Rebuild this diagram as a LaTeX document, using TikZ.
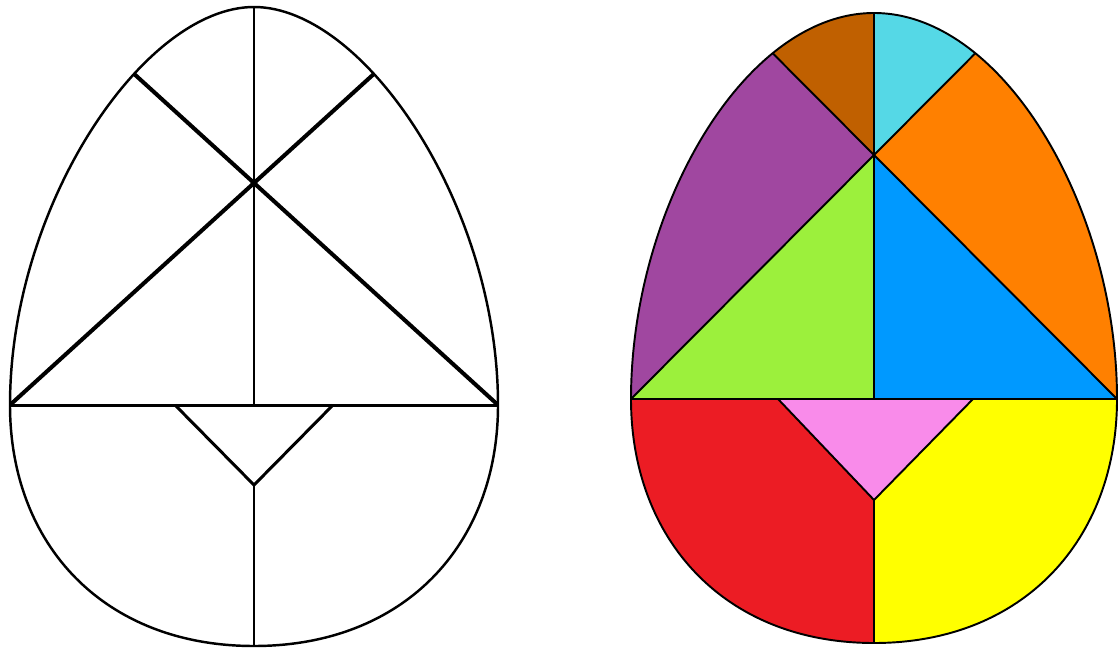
\documentclass[tikz,border=0pt]{standalone}
\usepackage{tikz}
\usetikzlibrary{calc}
\definecolor{eggbrown}{HTML}{C06000}
\definecolor{eggcyan}{HTML}{55D8E6}
\definecolor{eggorange}{HTML}{FF8000}
\definecolor{eggpurple}{HTML}{A047A0}
\definecolor{egggreen}{HTML}{9CF03C}
\definecolor{eggblue}{HTML}{0099FF}
\definecolor{eggpink}{HTML}{F98BEA}
\definecolor{eggred}{HTML}{EC1C24}
\definecolor{eggyellow}{HTML}{FFFF00}

% egg outline: {centre x}{top}{widest y}{bottom}{half width}{side pull}{top pull}
\newcommand{\eggoutline}[7]{%
  ({#1-#5},#3) .. controls ({#1-#5},{#3-#6}) and ({#1-#7},#2) .. (#1,#2)
  .. controls ({#1+#7},#2) and ({#1+#5},{#3-#6}) .. ({#1+#5},#3)
  .. controls ({#1+#5},{#3+140}) and ({#1+150},#4) .. (#1,#4)
  .. controls ({#1-150},#4) and ({#1-#5},{#3+140}) .. cycle}

\begin{document}
\begin{tikzpicture}[
  x=0.02cm, y=-0.02cm,
  eggline/.style={draw=black, line width=1.4pt},
  cutline/.style={draw=black, line width=1.7pt},
  diagline/.style={draw=black, line width=2.3pt},
  colline/.style={draw=black, line width=1.1pt, line join=round},
]
\useasboundingbox (0,0) rectangle (1118,649);

% Left egg: outline and cut lines only
\coordinate (ltop) at (254,7);
\coordinate (lcross) at (254,183);
\coordinate (lleft) at (10,405);
\coordinate (lright) at (498,405);
\coordinate (lmid) at (254,405);
\coordinate (ltrapl) at (175,405);
\coordinate (ltrapr) at (333,405);
\coordinate (lapex) at (254,485);
\coordinate (lbot) at (254,646);

\begin{scope}
\clip \eggoutline{254}{7}{405}{646}{244}{200}{110};
\draw[diagline] (lleft) -- ($(lleft)!1.7!(lcross)$);
\draw[diagline] (lright) -- ($(lright)!1.7!(lcross)$);
\end{scope}
\draw[cutline] (ltop) -- (lmid);
\draw[cutline] (lleft) -- (lright);
\draw[cutline, line join=round] (ltrapl) -- (lapex) -- (ltrapr);
\draw[cutline] (lapex) -- (lbot);
\draw[eggline] \eggoutline{254}{7}{405}{646}{244}{200}{110};

% Right egg: the coloured pieces
\coordinate (rtop) at (874,13);
\coordinate (rcross) at (874,155);
\coordinate (rleft) at (631,399);
\coordinate (rright) at (1117,399);
\coordinate (rmid) at (874,399);
\coordinate (rtrapl) at (778,399);
\coordinate (rtrapr) at (973,399);
\coordinate (rapex) at (874,500);
\coordinate (rbot) at (874,643);
\coordinate (rfarl) at ($(rright)!2!(rcross)$);
\coordinate (rfarr) at ($(rleft)!2!(rcross)$);

\begin{scope}
\clip \eggoutline{874}{13}{399}{643}{243}{190}{130};
\fill[eggbrown] (rcross) -- (rfarl) -- (874,-100) -- cycle;
\fill[eggcyan] (rcross) -- (rfarr) -- (874,-100) -- cycle;
\fill[eggpurple] (rcross) -- (rfarl) -- (560,-100) -- (560,399) -- (rleft) -- cycle;
\fill[eggorange] (rcross) -- (rfarr) -- (1180,-100) -- (1180,399) -- (rright) -- cycle;
\fill[egggreen] (rcross) -- (rleft) -- (rmid) -- cycle;
\fill[eggblue] (rcross) -- (rright) -- (rmid) -- cycle;
\fill[eggpink] (rtrapl) -- (rtrapr) -- (rapex) -- cycle;
\fill[eggred] (560,399) -- (rtrapl) -- (rapex) -- (874,700) -- (560,700) -- cycle;
\fill[eggyellow] (1180,399) -- (rtrapr) -- (rapex) -- (874,700) -- (1180,700) -- cycle;
% piece borders
\draw[colline] (rleft) -- (rfarr);
\draw[colline] (rright) -- (rfarl);
\end{scope}
\draw[colline] (rtop) -- (rmid);
\draw[colline] (rleft) -- (rright);
\draw[colline] (rtrapl) -- (rapex) -- (rtrapr);
\draw[colline] (rapex) -- (rbot);
\draw[colline] \eggoutline{874}{13}{399}{643}{243}{190}{130};
\end{tikzpicture}
\end{document}
